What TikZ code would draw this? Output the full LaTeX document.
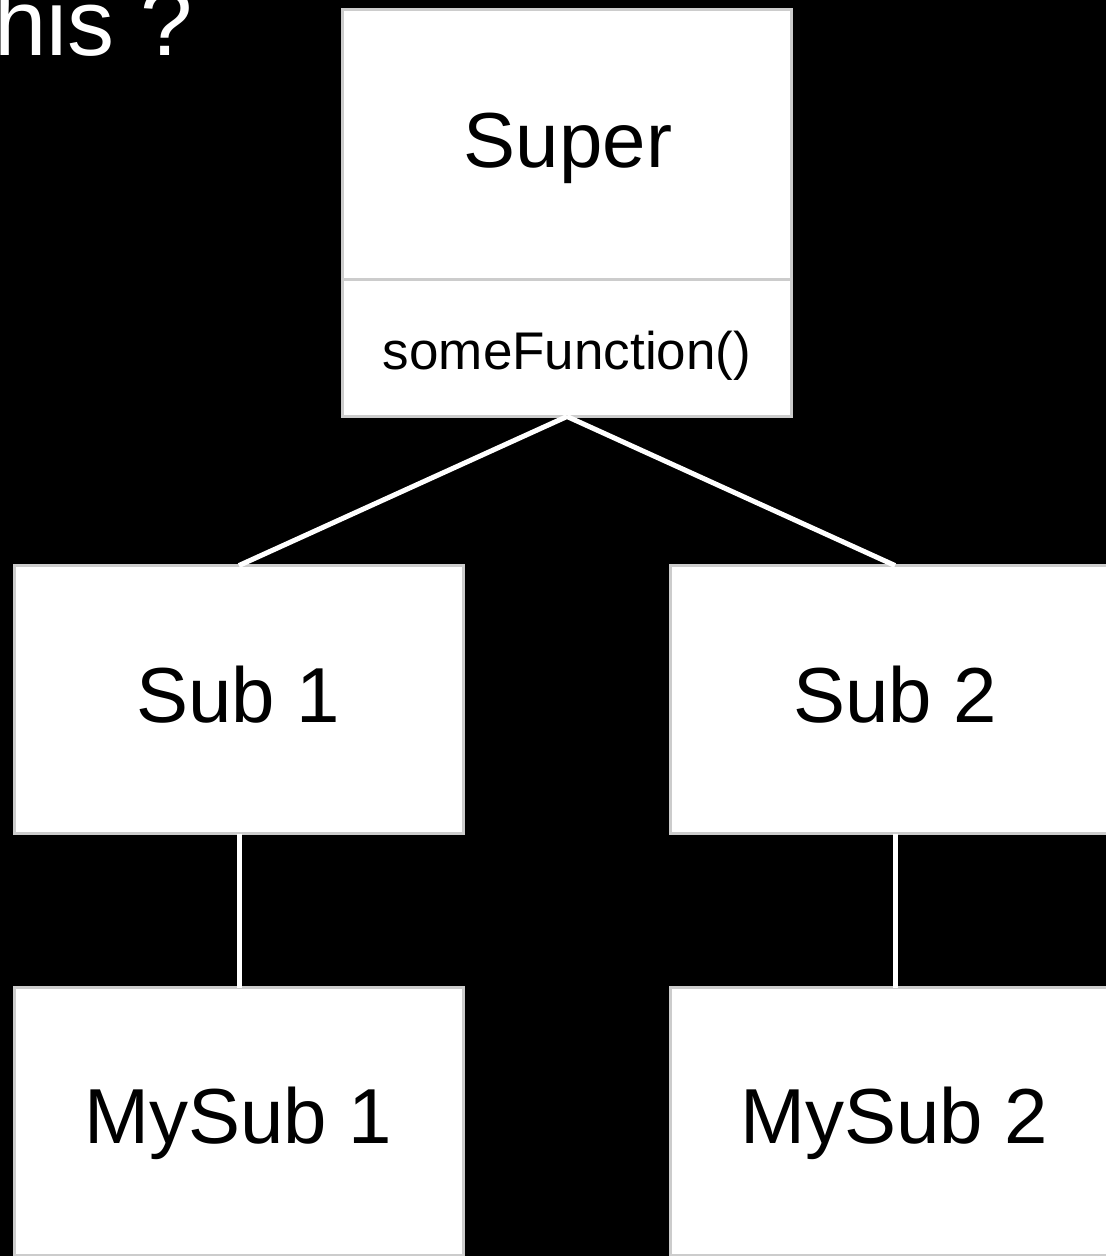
\documentclass[tikz,border=0pt]{standalone}
\usepackage{fontspec}
\setmainfont{Liberation Sans}
\definecolor{boxline}{HTML}{CCCCCC}
\begin{document}
\begin{tikzpicture}[x=1pt,y=-1pt,
  box/.style={draw=boxline, line width=3pt, fill=white, rectangle, inner sep=0pt, outer sep=0pt, minimum width=449pt},
  conn/.style={draw=white, line width=5pt},
  bigtext/.style={font=\fontsize{78}{90}\selectfont, text=black, inner sep=0pt, anchor=base},
  smalltext/.style={font=\fontsize{53}{62}\selectfont, text=black, inner sep=0pt, anchor=base},
  titletext/.style={font=\fontsize{94}{110}\selectfont, text=white, inner sep=0pt, anchor=base west}]
\fill[black] (0,0) rectangle (1106,1256);
\useasboundingbox (0,0) rectangle (1106,1256);
% title fragment
\node[titletext] (title) at (-6,55) {his ?};
\node[box, minimum height=407pt] (super) at (567,213) {};
\node[box, minimum height=268pt] (sub1) at (239,699.5) {};
\node[box, minimum height=268pt] (sub2) at (895,699.5) {};
\node[box, minimum height=268pt] (mysub1) at (239,1121.5) {};
\node[box, minimum height=268pt] (mysub2) at (895,1121.5) {};
\draw[conn] (super.south) -- (sub1.north);
\draw[conn] (super.south) -- (sub2.north);
\draw[conn] (sub1.south) -- (mysub1.north);
\draw[conn] (sub2.south) -- (mysub2.north);
% compartment divider
\draw[boxline, line width=3pt] (super.west |- 0,279) -- (super.east |- 0,279);
% texts
\node[bigtext] (supert) at (568,167) {Super};
\node[smalltext] (fn) at (567,369) {someFunction()};
\node[bigtext] (sub1t) at (238,722) {Sub 1};
\node[bigtext] (sub2t) at (895,722) {Sub 2};
\node[bigtext] (mysub1t) at (238,1143) {MySub 1};
\node[bigtext] (mysub2t) at (894,1143) {MySub 2};
\end{tikzpicture}
\end{document}
